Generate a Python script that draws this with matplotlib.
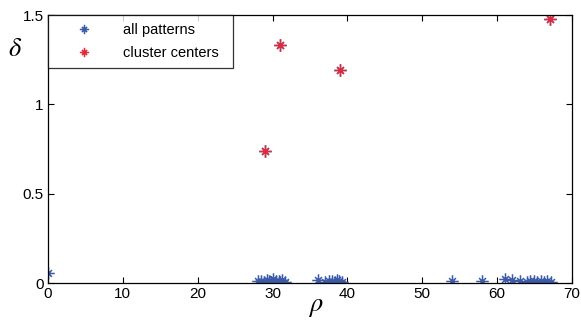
import numpy as np
from matplotlib import pyplot as plt
from matplotlib.path import Path

plt.rcParams['font.family'] = ['Liberation Sans', 'DejaVu Sans']
plt.rcParams['mathtext.fontset'] = 'stix'

# all patterns (rho, delta)
rho_all = [0, 28, 28.5, 28.8, 29.2, 29.5, 29.8, 30.1, 30.4, 30.8, 31, 31.3, 31.6,
           36, 37, 37.6, 38, 38.3, 38.6, 38.9, 39.3,
           54, 58, 61, 62, 63, 64, 64.4, 64.9, 65.3, 65.8, 66.2, 66.7, 67.2,
           29, 31, 39, 67]
delta_all = [0.055, 0.01, 0.012, 0.008, 0.018, 0.01, 0.006, 0.02, 0.009, 0.012, 0.007, 0.015, 0.008,
             0.018, 0.006, 0.01, 0.014, 0.008, 0.016, 0.01, 0.006,
             0.01, 0.012, 0.02, 0.016, 0.01, 0.007, 0.012, 0.01, 0.006, 0.01, 0.008, 0.012, 0.007,
             0.74, 1.33, 1.19, 1.48]

# cluster centers
rho_c = [29, 31, 39, 67]
delta_c = [0.74, 1.33, 1.19, 1.48]

blue = '#3a5aa8'
red = '#e02a3a'

# matlab style asterisk: long + arms, shorter x arms
d = 0.55
verts = [(-1, 0), (1, 0), (0, -1), (0, 1), (-d, -d), (d, d), (-d, d), (d, -d)]
codes = [Path.MOVETO, Path.LINETO] * 4
ast = Path(verts, codes)

fig = plt.figure(figsize=(5.81, 3.2), dpi=100)
ax = fig.add_axes([0.0826, 0.1156, 0.902, 0.8375])

ax.plot(rho_all, delta_all, linestyle='none', marker=ast, markersize=9,
        markeredgewidth=1.1, color=blue, label='all patterns')
ax.plot(rho_c, delta_c, linestyle='none', marker=ast, markersize=9,
        markeredgewidth=1.1, color=red, label='cluster centers')

ax.set_xlim(0, 70)
ax.set_ylim(0, 1.5)
ax.set_xticks(range(0, 71, 10))
ax.set_yticks([0, 0.5, 1, 1.5])
ax.set_yticklabels(['0', '0.5', '1', '1.5'])
ax.tick_params(direction='in', top=True, right=True, labelsize=11, length=4, width=0.8, pad=3)
for s in ax.spines.values():
    s.set_linewidth(0.9)

ax.set_xlabel(r'$\rho$', fontsize=19)
ax.xaxis.set_label_coords(0.51, -0.09)
ax.xaxis.label.set_va('center')
ax.set_ylabel(r'$\delta$', fontsize=19, rotation=0, va='center', ha='center')
ax.yaxis.set_label_coords(-0.062, 0.875)

leg = ax.legend(loc='upper left', bbox_to_anchor=(0, 0, 0.353, 1), mode='expand',
                borderaxespad=0, fancybox=False, edgecolor='black',
                fontsize=10.5, handletextpad=0.8, borderpad=0.55, labelspacing=0.6,
                handlelength=3.8, markerscale=0.75)
leg.get_frame().set_linewidth(0.9)

plt.savefig('out.png', dpi=100)
